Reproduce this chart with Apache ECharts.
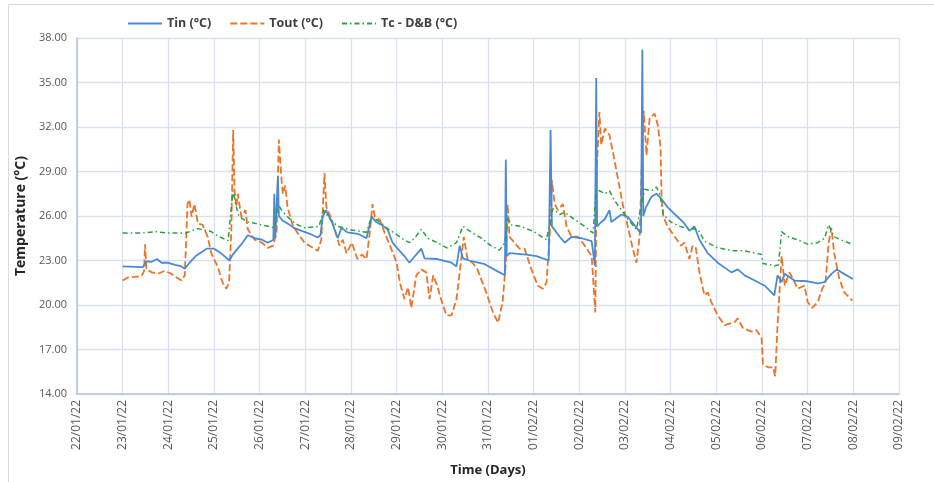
<!DOCTYPE html>
<html>
<head>
<meta charset="utf-8">
<script src="https://cdn.jsdelivr.net/npm/echarts@6/dist/echarts.min.js"></script>
<style>
  html, body { margin: 0; padding: 0; background: #fff; }
  #chart { width: 934px; height: 482px; }
</style>
</head>
<body>
<div id="chart"></div>
<script>
// x positions are in days counted from 22/01/22
const dayLabels = ['22/01/22', '23/01/22', '24/01/22', '25/01/22', '26/01/22', '27/01/22',
  '28/01/22', '29/01/22', '30/01/22', '31/01/22', '01/02/22', '02/02/22', '03/02/22',
  '04/02/22', '05/02/22', '06/02/22', '07/02/22', '08/02/22', '09/02/22'];

const tinDays = [1.0, 1.44, 1.52, 1.62, 1.75, 1.85, 1.98, 2.15, 2.29, 2.36, 2.45, 2.6, 2.75, 2.84,
  3.0, 3.15, 3.34, 3.41, 3.6, 3.74, 3.89, 4.05, 4.18, 4.3, 4.32, 4.34, 4.38, 4.4, 4.42, 4.5, 4.61,
  4.75, 4.92, 5.1, 5.27, 5.33, 5.38, 5.45, 5.58, 5.71, 5.79, 5.92, 6.15, 6.34, 6.45, 6.55, 6.67,
  6.8, 6.91, 7.02, 7.17, 7.28, 7.4, 7.54, 7.61, 7.89, 8.2, 8.31, 8.38, 8.45, 8.64, 8.93, 9.25,
  9.37, 9.39, 9.41, 9.47, 9.84, 10.06, 10.33, 10.37, 10.4, 10.57, 10.68, 10.83, 11.05, 11.27,
  11.34, 11.37, 11.39, 11.45, 11.56, 11.66, 11.7, 11.92, 12.06, 12.28, 12.35, 12.38, 12.4, 12.46,
  12.58, 12.69, 12.8, 12.93, 13.15, 13.3, 13.41, 13.52, 13.63, 13.81, 14.03, 14.33, 14.47, 14.62,
  14.84, 15.06, 15.27, 15.34, 15.43, 15.5, 15.71, 16.0, 16.22, 16.37, 16.52, 16.64, 16.74, 16.99];
const tinVals = [22.6, 22.55, 22.95, 22.9, 23.1, 22.85, 22.85, 22.7, 22.6, 22.45, 22.8, 23.3, 23.6,
  23.8, 23.8, 23.5, 23.0, 23.4, 24.1, 24.7, 24.5, 24.4, 24.2, 24.4, 27.5, 24.5, 24.6, 28.7, 26.0,
  25.7, 25.5, 25.2, 25.0, 24.8, 24.55, 24.7, 25.95, 26.4, 25.6, 24.5, 25.2, 24.9, 24.8, 24.5, 25.95,
  25.6, 25.4, 25.1, 24.2, 23.8, 23.3, 22.85, 23.3, 23.8, 23.15, 23.1, 22.85, 22.6, 24.0, 23.15,
  22.95, 22.75, 22.2, 22.0, 29.8, 23.3, 23.5, 23.4, 23.3, 23.0, 31.8, 25.3, 24.6, 24.2, 24.6, 24.5,
  24.3, 22.65, 35.3, 25.3, 25.5, 25.8, 26.4, 25.6, 26.1, 25.95, 25.1, 24.85, 37.2, 26.0, 26.6, 27.3,
  27.5, 27.15, 26.6, 25.95, 25.5, 25.0, 25.3, 24.4, 23.5, 22.85, 22.2, 22.4, 22.0, 21.65, 21.3,
  20.65, 22.0, 21.55, 22.1, 21.65, 21.6, 21.45, 21.55, 22.1, 22.4, 22.2, 21.75];

const toutDays = [1.0, 1.11, 1.26, 1.41, 1.47, 1.49, 1.52, 1.64, 1.77, 1.92, 2.07, 2.18, 2.29, 2.36,
  2.42, 2.46, 2.51, 2.57, 2.65, 2.75, 2.86, 2.94, 3.08, 3.19, 3.27, 3.33, 3.38, 3.42, 3.45, 3.49,
  3.52, 3.6, 3.69, 3.74, 3.89, 4.05, 4.18, 4.29, 4.37, 4.42, 4.48, 4.51, 4.56, 4.61, 4.72, 4.83,
  4.98, 5.09, 5.27, 5.35, 5.42, 5.46, 5.58, 5.69, 5.75, 5.82, 5.9, 6.02, 6.14, 6.24, 6.34, 6.41,
  6.47, 6.52, 6.63, 6.74, 6.88, 7.0, 7.07, 7.17, 7.25, 7.32, 7.43, 7.54, 7.65, 7.72, 7.8, 7.89,
  7.97, 8.09, 8.2, 8.31, 8.38, 8.47, 8.55, 8.66, 8.77, 8.96, 9.11, 9.22, 9.32, 9.39, 9.43, 9.47,
  9.58, 9.69, 9.8, 9.95, 10.09, 10.2, 10.28, 10.35, 10.4, 10.46, 10.53, 10.64, 10.72, 10.83, 10.97,
  11.12, 11.27, 11.35, 11.38, 11.44, 11.48, 11.56, 11.66, 11.73, 11.84, 11.95, 12.06, 12.17, 12.25,
  12.32, 12.36, 12.41, 12.47, 12.54, 12.65, 12.72, 12.78, 12.8, 12.84, 12.93, 13.09, 13.23, 13.3,
  13.41, 13.48, 13.55, 13.63, 13.74, 13.81, 13.89, 14.03, 14.18, 14.4, 14.47, 14.58, 14.77, 14.88,
  14.99, 15.02, 15.13, 15.24, 15.29, 15.34, 15.43, 15.5, 15.6, 15.67, 15.78, 15.93, 16.0, 16.1,
  16.22, 16.32, 16.39, 16.46, 16.52, 16.58, 16.69, 16.8, 16.98];
const toutVals = [21.65, 21.85, 21.9, 21.95, 22.3, 24.1, 22.4, 22.2, 22.1, 22.3, 22.1, 21.85, 21.65,
  22.0, 26.8, 27.1, 25.95, 26.8, 25.5, 25.4, 24.6, 23.5, 22.6, 21.5, 21.1, 21.5, 25.1, 31.8, 27.7,
  26.6, 27.5, 25.95, 26.4, 25.1, 24.4, 24.2, 23.85, 24.0, 24.85, 31.15, 28.4, 27.5, 28.05, 26.6,
  25.4, 24.85, 24.2, 24.0, 23.65, 24.4, 28.9, 26.6, 25.75, 24.6, 24.0, 24.4, 23.5, 24.2, 23.1, 23.4,
  23.1, 24.85, 26.8, 25.95, 25.75, 24.85, 23.8, 22.85, 21.5, 20.4, 21.2, 19.8, 22.0, 22.4, 22.2,
  20.4, 22.0, 21.3, 20.4, 19.3, 19.3, 20.4, 22.2, 24.6, 23.1, 22.85, 22.4, 20.85, 19.5, 18.8, 20.2,
  22.85, 26.8, 24.6, 24.2, 23.8, 23.8, 22.4, 21.3, 21.1, 21.5, 24.6, 28.4, 26.8, 26.4, 26.8, 25.3,
  24.6, 24.6, 24.0, 23.3, 19.5, 29.1, 33.0, 30.8, 31.9, 31.45, 30.4, 28.6, 26.8, 25.3, 23.8, 22.85,
  24.6, 28.6, 33.1, 30.1, 32.6, 32.9, 32.1, 30.6, 27.3, 25.95, 25.3, 24.6, 24.0, 24.2, 23.1, 24.0,
  23.85, 22.2, 20.65, 20.85, 20.2, 19.3, 18.65, 18.85, 19.1, 18.45, 18.2, 18.3, 17.8, 16.0, 15.8,
  15.8, 15.2, 18.65, 23.3, 21.3, 22.2, 21.8, 21.1, 21.3, 20.2, 19.8, 20.2, 21.1, 21.5, 24.2, 25.2,
  23.5, 21.8, 20.85, 20.3];

const tcDays = [1.0, 1.41, 1.72, 1.98, 2.38, 2.42, 2.65, 2.94, 3.11, 3.31, 3.38, 3.42, 3.49, 3.55,
  3.74, 4.05, 4.33, 4.4, 4.48, 4.61, 4.77, 4.98, 5.3, 5.4, 5.54, 5.71, 6.02, 6.34, 6.45, 6.63, 6.8,
  7.0, 7.16, 7.28, 7.39, 7.54, 7.68, 7.89, 8.1, 8.31, 8.45, 8.64, 8.86, 9.06, 9.25, 9.37, 9.43, 9.5,
  9.72, 10.0, 10.28, 10.38, 10.42, 10.57, 10.68, 10.9, 11.12, 11.3, 11.37, 11.44, 11.56, 11.66,
  11.77, 11.92, 12.06, 12.25, 12.36, 12.43, 12.58, 12.69, 12.76, 12.84, 13.0, 13.2, 13.41, 13.6,
  13.74, 14.03, 14.4, 14.62, 14.99, 15.02, 15.27, 15.36, 15.43, 15.57, 15.78, 16.0, 16.22, 16.37,
  16.46, 16.58, 16.8, 16.98];
const tcVals = [24.85, 24.85, 24.95, 24.85, 24.85, 24.9, 25.15, 24.95, 24.6, 24.35, 26.6, 27.7, 26.6,
  25.95, 25.6, 25.4, 25.2, 26.8, 26.4, 25.95, 25.5, 25.2, 25.3, 26.4, 25.8, 25.3, 25.05, 24.9,
  25.95, 25.6, 25.15, 24.75, 24.4, 24.2, 24.5, 25.1, 24.5, 24.2, 23.85, 24.2, 25.3, 24.9, 24.5,
  24.0, 23.7, 24.2, 25.95, 25.4, 25.3, 24.95, 24.4, 25.95, 26.5, 26.1, 26.25, 25.75, 25.3, 24.85,
  27.8, 27.7, 27.5, 27.7, 27.05, 26.4, 25.8, 25.1, 26.8, 27.8, 27.7, 27.95, 27.5, 26.1, 25.6, 25.3,
  25.15, 25.1, 24.3, 23.85, 23.65, 23.65, 23.4, 22.8, 22.65, 22.7, 24.95, 24.6, 24.4, 24.1, 24.2,
  24.5, 25.4, 24.6, 24.3, 24.1];

const pairs = (xs, ys) => xs.map((x, i) => [x, ys[i]]);

const labelFont = 'Open Sans';
const chart = echarts.init(document.getElementById('chart'));

chart.setOption({
  animation: false,
  graphic: [{
    type: 'rect',
    shape: { x: 8.5, y: 4.5, width: 940, height: 490 },
    style: { fill: 'none', stroke: '#d9d9d9', lineWidth: 1 },
    silent: true,
  }],
  legend: {
    left: 122,
    top: 12,
    itemWidth: 34,
    itemHeight: 12,
    itemGap: 18,
    itemStyle: { opacity: 0 },
    textStyle: { fontFamily: labelFont, fontWeight: 'bold', fontSize: 12.5, color: '#404040' },
    data: ['Tin (°C)', 'Tout (°C)', 'Tc - D&B (°C)'],
  },
  grid: { left: 77, right: 35, top: 38, bottom: 82 },
  xAxis: {
    type: 'value',
    min: 0,
    max: 18,
    interval: 1,
    name: 'Time (Days)',
    nameLocation: 'middle',
    nameGap: 70,
    nameTextStyle: { fontFamily: labelFont, fontWeight: 'bold', fontSize: 13, color: '#262626' },
    axisLine: { lineStyle: { color: '#b4c2da', width: 1.5 } },
    axisTick: { show: false },
    splitLine: { lineStyle: { color: '#d9e1ee', width: 1.3 } },
    axisLabel: {
      rotate: 90,
      margin: 6,
      fontFamily: labelFont,
      fontSize: 12,
      color: '#595959',
      formatter: (v) => dayLabels[Math.round(v)],
    },
  },
  yAxis: {
    type: 'value',
    min: 14,
    max: 38,
    interval: 3,
    name: 'Temperature (°C)',
    nameLocation: 'middle',
    nameGap: 40,
    nameTextStyle: { fontFamily: labelFont, fontWeight: 'bold', fontSize: 14, color: '#262626' },
    axisLine: { show: true, lineStyle: { color: '#b4c2da', width: 1.5 } },
    axisTick: { show: false },
    splitLine: { lineStyle: { color: '#d9e1ee', width: 1.3 } },
    axisLabel: {
      margin: 10,
      fontFamily: labelFont,
      fontSize: 11,
      color: '#595959',
      formatter: (v) => v.toFixed(2),
    },
  },
  series: [
    {
      name: 'Tin (°C)',
      type: 'line',
      symbol: 'none',
      z: 3,
      lineStyle: { color: '#4a8ad4', width: 1.8 },
      itemStyle: { color: '#4a8ad4' },
      data: pairs(tinDays, tinVals),
    },
    {
      name: 'Tout (°C)',
      type: 'line',
      symbol: 'none',
      z: 2,
      lineStyle: { color: '#ec7428', width: 1.8, type: [7, 3] },
      itemStyle: { color: '#ec7428' },
      data: pairs(toutDays, toutVals),
    },
    {
      name: 'Tc - D&B (°C)',
      type: 'line',
      symbol: 'none',
      z: 4,
      lineStyle: { color: '#27a243', width: 1.5, type: [5, 3, 1.5, 3] },
      itemStyle: { color: '#27a243' },
      data: pairs(tcDays, tcVals),
    },
  ],
});
</script>
</body>
</html>
